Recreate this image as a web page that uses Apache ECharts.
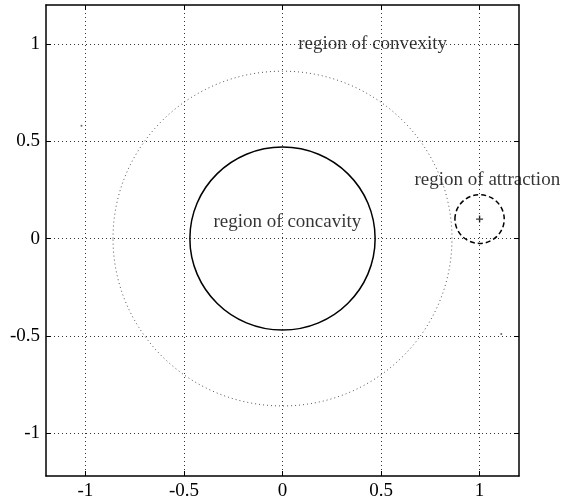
<!DOCTYPE html>
<html>
<head>
<meta charset="utf-8">
<script src="https://cdn.jsdelivr.net/npm/echarts@6/dist/echarts.min.js"></script>
<style>html,body{margin:0;padding:0;background:#fff}#c{width:574px;height:504px}</style>
</head>
<body>
<div id="c"></div>
<script>
// Axis ticks
const xTicks = [-1, -0.5, 0, 0.5, 1];
const yTicks = [-1, -0.5, 0, 0.5, 1];

// Circles: [centerX, centerY, radius]
const concavityCircle = [[0, 0, 0.47]];
const convexityBoundary = [[0, 0, 0.86]];
const attractionCircle = [[1, 0.1, 0.125]];

// Equilibrium point
const equilibrium = [[1, 0.1]];

// Stray specks in the figure
const specks = [[-1.02, 0.58], [1.11, -0.49]];

// Annotation texts and positions
const labelTexts = ['region of convexity', 'region of concavity', 'region of attraction'];
const labelX = [0.08, -0.35, 0.67];
const labelY = [1.0, 0.085, 0.3];

const FONT = '"Liberation Serif", "Times New Roman", serif';

function circleSeries(data, lineStyle) {
  return {
    type: 'custom',
    data: data,
    clip: false,
    silent: true,
    renderItem: function (params, api) {
      const c = api.coord([api.value(0), api.value(1)]);
      const rx = api.size([api.value(2), 0])[0];
      const ry = api.size([0, api.value(2)])[1];
      return {
        type: 'ellipse',
        shape: { cx: c[0], cy: c[1], rx: rx, ry: ry },
        style: Object.assign({ fill: 'none' }, lineStyle)
      };
    }
  };
}

const chart = echarts.init(document.getElementById('c'), null, { renderer: 'canvas' });

const gridLine = { show: true, lineStyle: { color: '#333', type: [1, 3], width: 1 } };
const axLine = { show: true, onZero: false, lineStyle: { color: '#000', width: 1.5 } };
function tick(vals) {
  return { show: true, inside: true, length: 5, customValues: vals, lineStyle: { color: '#000', width: 1 } };
}

chart.setOption({
  animation: false,
  backgroundColor: '#fff',
  grid: { left: 46, right: 55, top: 5, bottom: 28, show: false },
  xAxis: [{
    type: 'value', min: -1.2, max: 1.2, position: 'bottom',
    axisLine: axLine,
    axisTick: tick(xTicks),
    axisLabel: { customValues: xTicks, color: '#000', fontFamily: FONT, fontSize: 19, margin: 6 },
    splitLine: gridLine
  }, {
    type: 'value', min: -1.2, max: 1.2, position: 'top',
    axisLine: axLine,
    axisTick: tick(xTicks),
    axisLabel: { show: false },
    splitLine: { show: false }
  }],
  yAxis: [{
    type: 'value', min: -1.22, max: 1.2, position: 'left',
    axisLine: axLine,
    axisTick: tick(yTicks),
    axisLabel: { customValues: yTicks, color: '#000', fontFamily: FONT, fontSize: 19, margin: 6 },
    splitLine: gridLine
  }, {
    type: 'value', min: -1.22, max: 1.2, position: 'right',
    axisLine: axLine,
    axisTick: tick(yTicks),
    axisLabel: { show: false },
    splitLine: { show: false }
  }],
  series: [
    circleSeries(convexityBoundary, { stroke: '#555', lineWidth: 1, lineDash: [1, 3] }),
    circleSeries(concavityCircle, { stroke: '#000', lineWidth: 1.5 }),
    circleSeries(attractionCircle, { stroke: '#000', lineWidth: 1.5, lineDash: [5, 3] }),
    {
      type: 'scatter', data: equilibrium, silent: true,
      symbol: 'path://M-1,-0.2H1V0.2H-1Z M-0.2,-1H0.2V1H-0.2Z',
      symbolSize: 7, itemStyle: { color: '#000' }
    },
    {
      type: 'scatter', data: specks, silent: true,
      symbol: 'circle', symbolSize: 2, itemStyle: { color: '#444' }
    },
    {
      type: 'scatter', silent: true, clip: false,
      data: labelTexts.map(function (t, i) { return { value: [labelX[i], labelY[i]], name: t }; }),
      symbolSize: 0,
      label: {
        show: true, position: 'right', distance: 0,
        formatter: function (p) { return p.name; },
        color: '#000', fontFamily: FONT, fontSize: 19
      }
    }
  ]
});
</script>
</body>
</html>
